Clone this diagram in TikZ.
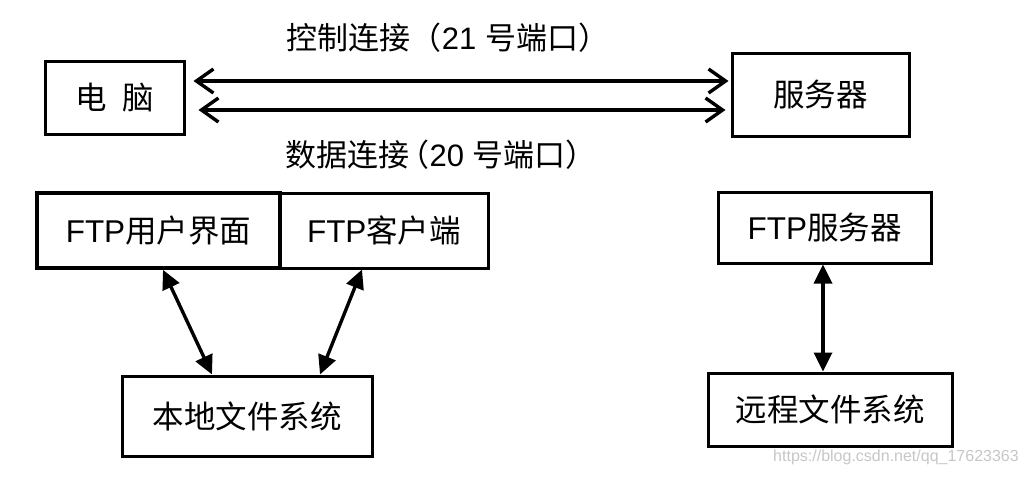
\documentclass[tikz,border=0pt]{standalone}
\usepackage{fontspec}
\setmainfont{Liberation Sans}
\newfontfamily\cjk{Noto Sans CJK SC}
\usetikzlibrary{arrows.meta}
\begin{document}
\begin{tikzpicture}[x=1pt,y=-1pt,
  box/.style={draw,line width=3pt,inner sep=0pt,font=\fontsize{31.5}{34}\selectfont},
  lbl/.style={inner sep=0pt,font=\fontsize{31}{34}\selectfont},
  harrow/.style={line width=3.4pt,{Straight Barb[length=17pt,width=24pt,line width=3.4pt]}-{Straight Barb[length=17pt,width=24pt,line width=3.4pt]}},
  varrow/.style={line width=3.4pt,{Triangle[length=19pt,width=18pt]}-{Triangle[length=19pt,width=18pt]}},
  wm/.style={inner sep=0pt,text=black!22,font=\fontsize{16}{18}\selectfont}]
\useasboundingbox (0,0) rectangle (1028,477);
\fill[white] (0,0) rectangle (1028,477);

\node[box,minimum width=139pt,minimum height=73pt] (pc) at (114.5,97.5) {\cjk 电\hspace{0.5em}脑};
\node[box,minimum width=177pt,minimum height=83pt] (sv) at (820.5,94.5) {\cjk 服务器};

\node[lbl] (l1) at (448,38) {{\cjk 控制连接（}21 {\cjk 号端口）}};
\node[lbl] (l2) at (441,155) {{\cjk 数据连接\hspace{-0.35em}（}20 {\cjk 号端口）}};

\draw[harrow,shorten <=8pt,shorten >=2pt] (pc.east |- 0,81) -- (sv.west |- 0,81);
\draw[harrow,shorten <=13pt,shorten >=5pt] (pc.east |- 0,110) -- (sv.west |- 0,110);

\node[box,line width=3.6pt,minimum width=243pt,minimum height=75pt] (ui) at (158.5,230.5) {FTP{\cjk 用户界面}};
\node[box,minimum width=208pt,minimum height=75pt] (cl) at (384,230.5) {FTP{\cjk 客户端}};
\node[box,minimum width=250pt,minimum height=80pt] (lf) at (247,416) {\cjk 本地文件系统};

\draw[varrow] ([xshift=4.5pt]ui.south) -- ([xshift=-35pt]lf.north);
\draw[varrow] ([xshift=-22pt]cl.south) -- ([xshift=73pt]lf.north);

\node[box,minimum width=213pt,minimum height=71pt] (fs) at (824.5,227.5) {FTP{\cjk 服务器}};
\node[box,minimum width=244pt,minimum height=73pt] (rf) at (830,409.5) {\cjk 远程文件系统};

\draw[varrow] ([xshift=-1.5pt]fs.south) -- ([xshift=-1.5pt]fs.south |- rf.north);

\node[wm] (w) at (896,457) {https://blog.csdn.net/qq\_17623363};
\end{tikzpicture}
\end{document}
